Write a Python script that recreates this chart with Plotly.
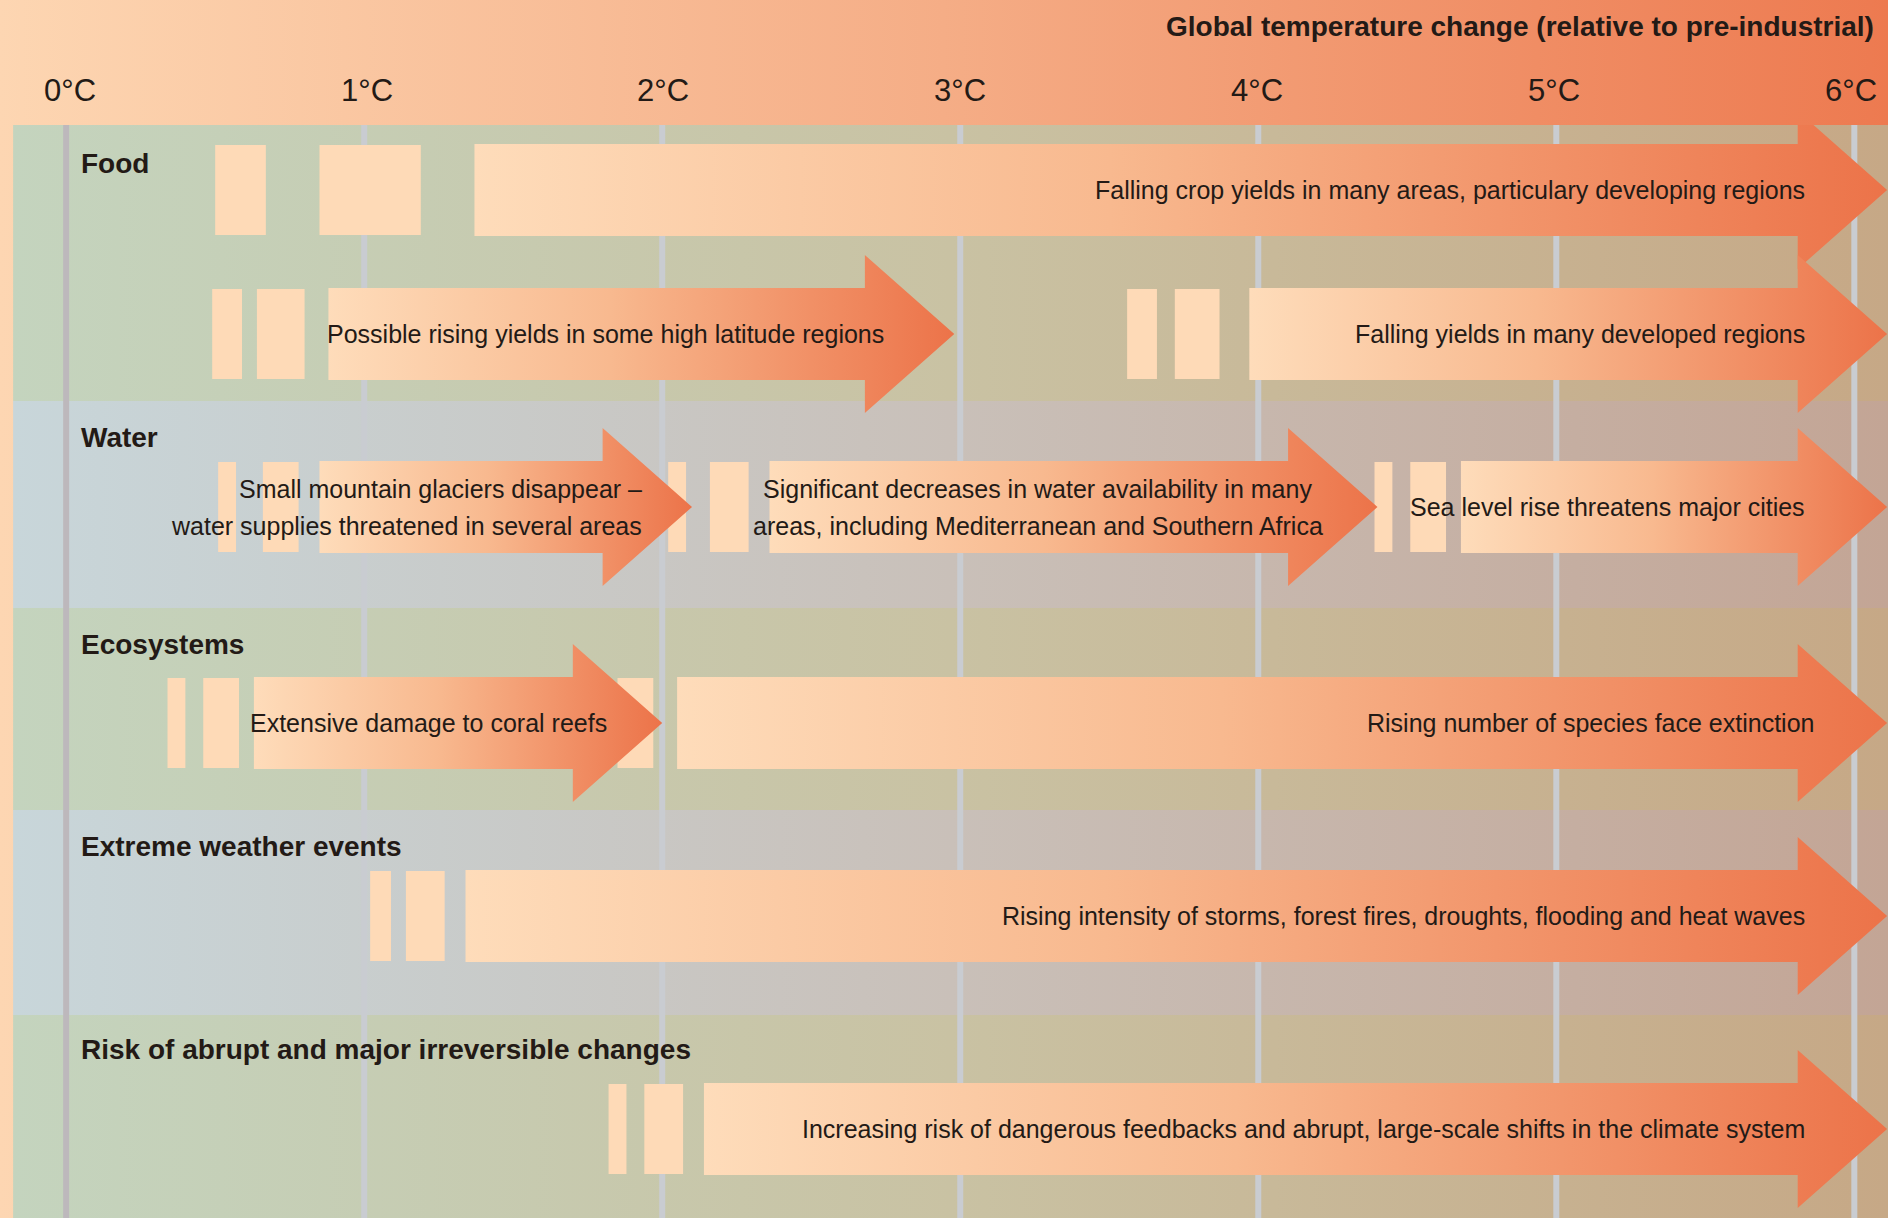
import plotly.graph_objects as go

# ---------------------------------------------------------------- data
TICK_VALUES = [0, 1, 2, 3, 4, 5, 6]
TICK_LABELS = ["0°C", "1°C", "2°C", "3°C", "4°C", "5°C", "6°C"]
AXIS_TITLE = "Global temperature change (relative to pre-industrial)"

SECTORS = ["Food", "Water", "Ecosystems", "Extreme weather events",
           "Risk of abrupt and major irreversible changes"]

# impact arrows: lane, warming where the impact starts and where the arrow ends (°C)
arrow_lane = [0, 1, 1, 2, 2, 2, 3, 3, 4, 5]
arrow_start = [1.37, 0.88, 3.97, 0.85, 2.36, 4.68, 0.63, 2.05, 1.34, 2.14]
arrow_end = [6.11, 2.98, 6.11, 2.10, 4.40, 6.11, 2.00, 6.11, 6.11, 6.11]
arrow_text = [
    "Falling crop yields in many areas, particulary developing regions",
    "Possible rising yields in some high latitude regions",
    "Falling yields in many developed regions",
    "Small mountain glaciers disappear –<br>water supplies threatened in several areas",
    "Significant decreases in water availability in many<br>areas, including Mediterranean and Southern Africa",
    "Sea level rise threatens major cities",
    "Extensive damage to coral reefs",
    "Rising number of species face extinction",
    "Rising intensity of storms, forest fires, droughts, flooding and heat waves",
    "Increasing risk of dangerous feedbacks and abrupt, large-scale shifts in the climate system",
]

# onset bars in front of each arrow (°C)
bar_lane = [0, 0, 1, 1, 1, 1, 2, 2, 2, 2, 2, 2, 3, 3, 3, 4, 4, 5, 5]
bar_start = [0.50, 0.85, 0.49, 0.64, 3.56, 3.72, 0.51, 0.66, 2.02, 2.16, 4.39, 4.51,
             0.34, 0.46, 1.85, 1.02, 1.14, 1.82, 1.94]
bar_end = [0.67, 1.19, 0.59, 0.80, 3.66, 3.87, 0.57, 0.78, 2.08, 2.29, 4.45, 4.63,
           0.40, 0.58, 1.97, 1.09, 1.27, 1.88, 2.07]

# ---------------------------------------------------------------- layout
W, H = 1888, 1218
X_RANGE = [-0.222, 6.113]
HEADER_BOTTOM = 125
LANE_Y = [190, 334, 507, 723, 916, 1129]
SECTOR_Y = [163, 437, 644, 846, 1049]
BANDS = [(125, 401), (401, 608), (608, 810), (810, 1015), (1015, 1218)]
BAND_GREEN = [[0, "#c4d4be"], [0.5, "#c9c2a3"], [1, "#c6a886"]]
BAND_BLUE = [[0, "#c8d6da"], [0.5, "#c9c0b9"], [1, "#c3a595"]]
HEADER_SCALE = [[0, "#fdd6b2"], [0.5, "#f5ad86"], [1, "#ed7a50"]]
ARROW_SCALE = [[0, "#fedcba"], [0.45, "#f8b98f"], [1, "#ec7349"]]
BAR_COLOR = "#fedab7"
GRID_COLOR = "#c9ccd1"
ZERO_COLOR = "#bdb8bc"
TEXT_COLOR = "#231a16"
FONT = "Liberation Sans, Arial, sans-serif"

HEAD_LEN = 0.30     # °C
BODY_HALF = 46
HEAD_HALF = 79
BAR_HALF = 45
LEFT_EDGE = -0.178
LINE_GAP = 37       # px between the two lines of a wrapped arrow label

# text placement relative to the arrow body end (°C); None -> centred on body
text_offset = [0.03, 0.07, 0.03, 0.14, None, 0.03, 0.12, 0.06, 0.03, 0.03]


def poly(xs, ys, **kw):
    return go.Scatter(x=xs + [xs[0]], y=ys + [ys[0]], mode="lines", fill="toself",
                      line=dict(width=0), hoverinfo="skip", showlegend=False, **kw)


fig = go.Figure()

# background: peach-to-orange ground, then sector bands
fig.add_trace(poly([X_RANGE[0], X_RANGE[1], X_RANGE[1], X_RANGE[0]], [0, 0, H, H],
                   fillgradient=dict(type="horizontal", colorscale=HEADER_SCALE)))
for i, (y0, y1) in enumerate(BANDS):
    fig.add_trace(poly([LEFT_EDGE, X_RANGE[1], X_RANGE[1], LEFT_EDGE], [y0, y0, y1, y1],
                       fillgradient=dict(type="horizontal",
                                         colorscale=BAND_GREEN if i % 2 == 0 else BAND_BLUE,
                                         start=LEFT_EDGE, stop=X_RANGE[1])))

# vertical temperature lines
for t in TICK_VALUES:
    fig.add_trace(go.Scatter(x=[t, t], y=[HEADER_BOTTOM, H], mode="lines",
                             line=dict(color=ZERO_COLOR if t == 0 else GRID_COLOR, width=6),
                             hoverinfo="skip", showlegend=False))

# onset bars
for lane, a, b in zip(bar_lane, bar_start, bar_end):
    yc = LANE_Y[lane]
    fig.add_trace(poly([a, b, b, a], [yc - BAR_HALF, yc - BAR_HALF, yc + BAR_HALF, yc + BAR_HALF],
                       fillcolor=BAR_COLOR))

# arrows
for lane, a, tip in zip(arrow_lane, arrow_start, arrow_end):
    yc = LANE_Y[lane]
    base = tip - HEAD_LEN
    xs = [a, base, base, tip, base, base, a]
    ys = [yc - BODY_HALF, yc - BODY_HALF, yc - HEAD_HALF, yc,
          yc + HEAD_HALF, yc + BODY_HALF, yc + BODY_HALF]
    fig.add_trace(poly(xs, ys, fillgradient=dict(type="horizontal", colorscale=ARROW_SCALE)))

# header strip drawn over arrow heads that reach into it
fig.add_trace(poly([X_RANGE[0], X_RANGE[1], X_RANGE[1], X_RANGE[0]],
                   [0, 0, HEADER_BOTTOM, HEADER_BOTTOM],
                   fillgradient=dict(type="horizontal", colorscale=HEADER_SCALE)))

annotations = []
annotations.append(dict(x=X_RANGE[1] - 0.04, y=26, text=f"<b>{AXIS_TITLE}</b>",
                        xanchor="right", yanchor="middle", showarrow=False,
                        font=dict(family=FONT, size=28, color=TEXT_COLOR)))
for t, lab in zip(TICK_VALUES, TICK_LABELS):
    # labels sit a touch inward of the end lines
    annotations.append(dict(x=t + 0.012 * (1 - t / 3), y=90, text=lab, xanchor="center",
                            yanchor="middle", showarrow=False,
                            font=dict(family=FONT, size=31, color=TEXT_COLOR)))
for name, y in zip(SECTORS, SECTOR_Y):
    annotations.append(dict(x=0.043, y=y, text=f"<b>{name}</b>", xanchor="left", yanchor="middle",
                            showarrow=False, font=dict(family=FONT, size=28, color=TEXT_COLOR)))
for lane, a, tip, txt, off in zip(arrow_lane, arrow_start, arrow_end, arrow_text, text_offset):
    base = tip - HEAD_LEN
    if off is None:
        x, anchor = (a + base) / 2 + 0.03, "center"
    else:
        x, anchor = base + off, "right"
    lines = txt.split("<br>")
    y0 = LANE_Y[lane] - LINE_GAP * (len(lines) - 1) / 2
    for k, line in enumerate(lines):
        annotations.append(dict(x=x, y=y0 + k * LINE_GAP, text=line, xanchor=anchor,
                                yanchor="middle", showarrow=False,
                                font=dict(family=FONT, size=25, color=TEXT_COLOR)))

fig.update_layout(
    width=W, height=H,
    margin=dict(l=0, r=0, t=0, b=0),
    paper_bgcolor="#fdd6b2", plot_bgcolor="#fdd6b2",
    xaxis=dict(range=X_RANGE, visible=False, fixedrange=True),
    yaxis=dict(range=[H, 0], visible=False, fixedrange=True),
    annotations=annotations,
    showlegend=False,
)

fig.write_html("out.html", config={"displayModeBar": False})
